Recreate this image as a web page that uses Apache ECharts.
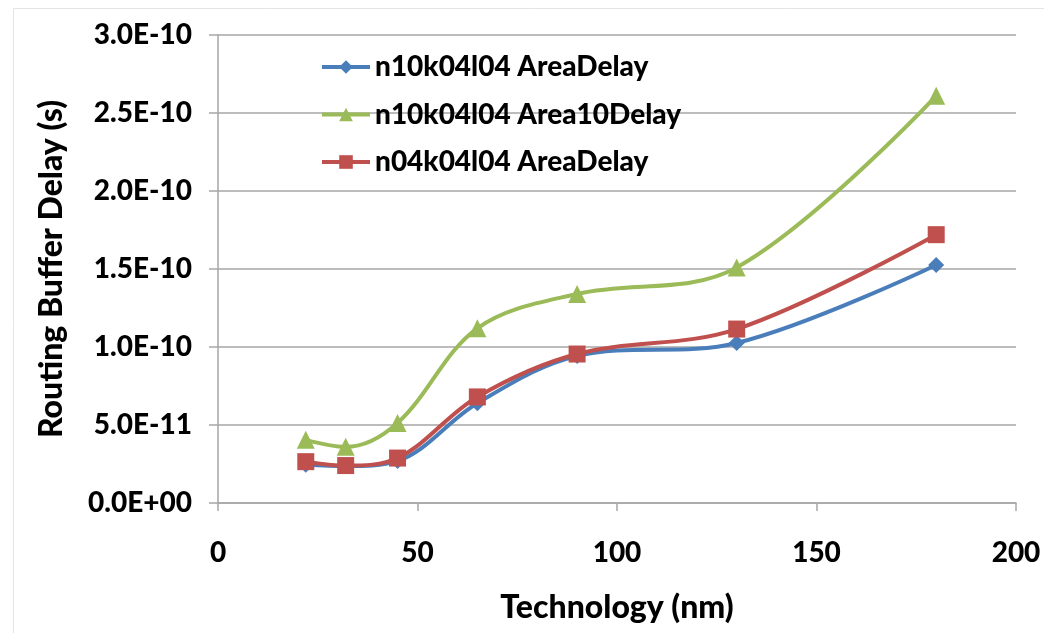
<!DOCTYPE html>
<html>
<head>
<meta charset="utf-8">
<script src="https://cdn.jsdelivr.net/npm/echarts@6/dist/echarts.min.js"></script>
<style>
html,body{margin:0;padding:0;background:#fff;}
#c{width:1044px;height:633px;}
</style>
</head>
<body>
<div id="c"></div>
<script>
const technology = [22, 32, 45, 65, 90, 130, 180];
const n10AreaDelay = [2.45e-11, 2.37e-11, 2.7e-11, 6.4e-11, 9.42e-11, 10.26e-11, 15.26e-11];
const n10Area10Delay = [4.05e-11, 3.6e-11, 5.13e-11, 11.2e-11, 13.4e-11, 15.1e-11, 26.1e-11];
const n04AreaDelay = [2.65e-11, 2.4e-11, 2.88e-11, 6.8e-11, 9.55e-11, 11.15e-11, 17.2e-11];
const seriesNames = ['n10k04l04 AreaDelay', 'n10k04l04 Area10Delay', 'n04k04l04 AreaDelay'];

const FONT = 'Lato';
const W = 900;
function sci(v) {
  let s = Number(v).toExponential(1).toUpperCase();
  return s.replace(/E([+-])(\d)$/, 'E$10$2');
}
function pairs(ys) { return technology.map((x, i) => [x, ys[i]]); }

const chart = echarts.init(document.getElementById('c'));
chart.setOption({
  animation: false,
  backgroundColor: '#fff',
  graphic: [{
    type: 'rect', left: 11, top: 6, silent: true,
    shape: { width: 1100, height: 700 },
    style: { fill: 'none', stroke: '#e4e4e4', lineWidth: 1 }
  }],
  grid: { left: 218, right: 28, top: 35, bottom: 130 },
  legend: {
    orient: 'vertical', left: 320, top: 53, itemGap: 19.5, padding: 0,
    itemWidth: 48, itemHeight: 17,
    lineStyle: { width: 4 },
    textStyle: { fontFamily: FONT, fontWeight: W, fontSize: 28, color: '#000' },
    data: seriesNames
  },
  xAxis: {
    type: 'value', min: 0, max: 200, interval: 50,
    name: 'Technology (nm)', nameLocation: 'middle', nameGap: 89,
    nameTextStyle: { fontFamily: FONT, fontWeight: W, fontSize: 32, color: '#000' },
    axisLine: { show: true, lineStyle: { color: '#a6a6a6', width: 1.5 } },
    axisTick: { show: true, length: 8, lineStyle: { color: '#a6a6a6', width: 1.5 } },
    axisLabel: { margin: 36, fontFamily: FONT, fontWeight: W, fontSize: 28, color: '#000' },
    splitLine: { show: false }
  },
  yAxis: {
    type: 'value', min: 0, max: 3e-10, interval: 5e-11,
    name: 'Routing Buffer Delay (s)', nameLocation: 'middle', nameGap: 150, nameRotate: 90,
    nameTextStyle: { fontFamily: FONT, fontWeight: W, fontSize: 32, color: '#000' },
    axisLine: { show: true, lineStyle: { color: '#a6a6a6', width: 1.5 } },
    axisTick: { show: true, length: 9, lineStyle: { color: '#a6a6a6', width: 1.5 } },
    axisLabel: { margin: 26, fontFamily: FONT, fontWeight: W, fontSize: 28, color: '#000', formatter: sci },
    splitLine: { show: true, lineStyle: { color: '#a6a6a6', width: 1.5 } }
  },
  series: [
    { name: seriesNames[0], type: 'line', smooth: 0.35, data: pairs(n10AreaDelay),
      symbol: 'diamond', symbolSize: 16, color: '#4a7ebb',
      lineStyle: { width: 4, color: '#4a7ebb' }, itemStyle: { color: '#4a7ebb' } },
    { name: seriesNames[1], type: 'line', smooth: 0.35, data: pairs(n10Area10Delay),
      symbol: 'triangle', symbolSize: 18, color: '#9bbb59',
      lineStyle: { width: 4, color: '#9bbb59' }, itemStyle: { color: '#9bbb59' } },
    { name: seriesNames[2], type: 'line', smooth: 0.35, data: pairs(n04AreaDelay),
      symbol: 'rect', symbolSize: 17, color: '#c0504d',
      lineStyle: { width: 4, color: '#c0504d' }, itemStyle: { color: '#c0504d' } }
  ]
});
</script>
</body>
</html>
